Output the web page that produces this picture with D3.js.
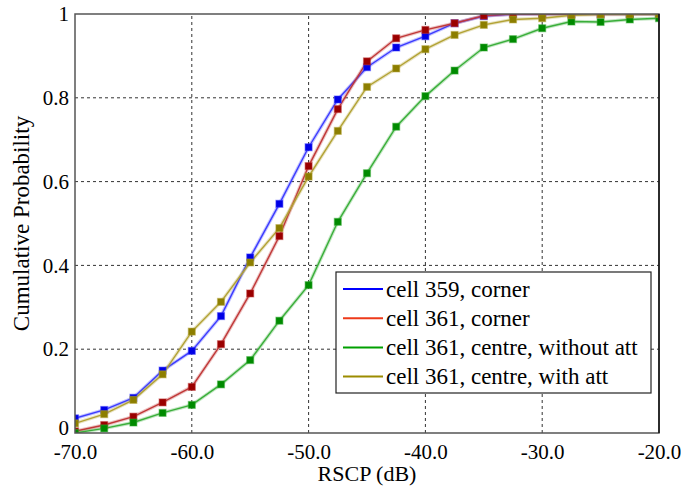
<!DOCTYPE html>
<html>
<head>
<meta charset="utf-8">
<script src="https://cdn.jsdelivr.net/npm/d3@7"></script>
<style>
  body { margin: 0; background: #fff; }
  svg text { font-family: "Liberation Serif", "DejaVu Serif", "Noto Serif", Tinos, "Times New Roman", serif; fill: #000; }
</style>
</head>
<body>
<svg id="chart"></svg>
<script>
// RSCP sample positions (dB)
const rscp = [-70, -67.5, -65, -62.5, -60, -57.5, -55, -52.5, -50, -47.5, -45,
              -42.5, -40, -37.5, -35, -32.5, -30, -27.5, -25, -22.5, -20];

const cell359Corner = [0.035, 0.055, 0.084, 0.149, 0.196, 0.279, 0.419, 0.547, 0.682, 0.796, 0.873,
                       0.92, 0.947, 0.978, 0.995, 1.0, 1.0, 1.0, 1.0, 1.0, 1.0];
const cell361Corner = [0.004, 0.019, 0.039, 0.073, 0.11, 0.212, 0.333, 0.47, 0.637, 0.773, 0.887,
                       0.942, 0.962, 0.978, 0.996, 1.0, 1.0, 1.0, 1.0, 1.0, 1.0];
const centreNoAtt = [0.0, 0.011, 0.025, 0.048, 0.067, 0.116, 0.174, 0.268, 0.353, 0.504, 0.62,
                     0.731, 0.804, 0.865, 0.92, 0.94, 0.966, 0.982, 0.981, 0.987, 0.99];
const centreAtt = [0.023, 0.045, 0.079, 0.14, 0.242, 0.313, 0.407, 0.489, 0.612, 0.721, 0.826,
                   0.87, 0.916, 0.95, 0.974, 0.987, 0.99, 0.997, 0.999, 0.999, 1.0];

const seriesNames = ["cell 359, corner", "cell 361, corner", "cell 361, centre, without att", "cell 361, centre, with att"];
const xTicks = [-70, -60, -50, -40, -30, -20];
const yTicks = [0, 0.2, 0.4, 0.6, 0.8, 1];

const series = [
    {name: seriesNames[0], values: cell359Corner, line: "#3b3bff", mark: "#0000e6", key: "#0000ff"},
    {name: seriesNames[1], values: cell361Corner, line: "#c03838", mark: "#9a0000", key: "#ee3a1a"},
    {name: seriesNames[2], values: centreNoAtt, line: "#3aae3a", mark: "#008a00", key: "#00a000"},
    {name: seriesNames[3], values: centreAtt, line: "#b2a234", mark: "#8c7e00", key: "#9c8c00"},
];

const serif = '"Liberation Serif", "DejaVu Serif", "Noto Serif", Tinos, "Times New Roman", serif';
const width = 681, height = 488;
const margin = {left: 75, right: 22, top: 14, bottom: 55};

const svg = d3.select("#chart")
    .attr("width", width)
    .attr("height", height);

const x = d3.scaleLinear().domain([-70, -20]).range([margin.left, width - margin.right]);
const y = d3.scaleLinear().domain([0, 1]).range([height - margin.bottom, margin.top]);

svg.append("defs").append("clipPath")
    .attr("id", "plotClip")
    .append("rect")
    .attr("x", x(-70))
    .attr("y", y(1))
    .attr("width", x(-20) - x(-70))
    .attr("height", y(0) - y(1));

// grid
const grid = svg.append("g");
xTicks.slice(1, -1).forEach(t => {
    grid.append("line")
        .attr("x1", x(t)).attr("x2", x(t))
        .attr("y1", y(0)).attr("y2", y(1))
        .attr("stroke", "#333")
        .attr("stroke-width", 1)
        .attr("stroke-dasharray", "3,3");
});
yTicks.slice(1, -1).forEach(t => {
    grid.append("line")
        .attr("x1", x(-70)).attr("x2", x(-20))
        .attr("y1", y(t)).attr("y2", y(t))
        .attr("stroke", "#333")
        .attr("stroke-width", 1)
        .attr("stroke-dasharray", "3,3");
});

// series
const plot = svg.append("g").attr("clip-path", "url(#plotClip)");
const line = d3.line()
    .x((d, i) => x(rscp[i]))
    .y(d => y(d));

series.forEach(s => {
    plot.append("path")
        .attr("d", line(s.values))
        .attr("fill", "none")
        .attr("stroke", s.line)
        .attr("stroke-opacity", 0.3)
        .attr("stroke-width", 3.5);
    plot.append("path")
        .attr("d", line(s.values))
        .attr("fill", "none")
        .attr("stroke", s.line)
        .attr("stroke-width", 1.4);
});

series.forEach(s => {
    plot.selectAll(null)
        .data(s.values)
        .enter()
        .append("rect")
        .attr("x", (d, i) => x(rscp[i]) - 3.5)
        .attr("y", d => y(d) - 3.5)
        .attr("width", 7)
        .attr("height", 7)
        .attr("fill", s.mark)
        .attr("stroke", s.line)
        .attr("stroke-opacity", 0.45)
        .attr("stroke-width", 1.2);
});

// frame
svg.append("rect")
    .attr("x", x(-70))
    .attr("y", y(1))
    .attr("width", x(-20) - x(-70))
    .attr("height", y(0) - y(1))
    .attr("fill", "none")
    .attr("stroke", "#555")
    .attr("stroke-width", 1.5);
svg.append("line")
    .attr("x1", x(-20)).attr("x2", x(-20))
    .attr("y1", y(1)).attr("y2", y(0))
    .attr("stroke", "#111")
    .attr("stroke-width", 1.5);

// axes labels
const xAxis = d3.axisBottom(x)
    .tickValues(xTicks)
    .tickFormat(d => d3.format(".1f")(d).replace("\u2212", "-"))
    .tickSize(0)
    .tickPadding(11);
svg.append("g")
    .attr("transform", `translate(0,${y(0)})`)
    .call(xAxis)
    .call(g => g.select(".domain").remove())
    .attr("font-family", serif)
    .attr("font-size", 21)
    .selectAll("text")
    .attr("fill", "#000");

const yAxis = d3.axisLeft(y)
    .tickValues(yTicks)
    .tickFormat(d3.format("~g"))
    .tickSize(0)
    .tickPadding(6);
svg.append("g")
    .attr("transform", `translate(${x(-70)},0)`)
    .call(yAxis)
    .call(g => g.select(".domain").remove())
    .attr("font-family", serif)
    .attr("font-size", 21)
    .selectAll("text")
    .attr("fill", "#000")
    .attr("dy", d => d === 0 ? "0.05em" : "0.32em");

svg.append("text")
    .attr("x", (x(-70) + x(-20)) / 2)
    .attr("y", 481)
    .attr("text-anchor", "middle")
    .attr("font-size", 22)
    .text("RSCP (dB)");

svg.append("text")
    .attr("transform", `translate(29,${(y(0) + y(1)) / 2}) rotate(-90)`)
    .attr("text-anchor", "middle")
    .attr("font-size", 23)
    .text("Cumulative Probability");

// legend
const legend = svg.append("g").attr("transform", "translate(336,272)");
legend.append("rect")
    .attr("width", 315)
    .attr("height", 121)
    .attr("fill", "#fff")
    .attr("stroke", "#222")
    .attr("stroke-width", 1.2);

series.forEach((s, i) => {
    const ly = 17 + i * 29.2;
    legend.append("line")
        .attr("x1", 7).attr("x2", 47)
        .attr("y1", ly).attr("y2", ly)
        .attr("stroke", s.key)
        .attr("stroke-width", 2);
    legend.append("text")
        .attr("x", 50)
        .attr("y", ly)
        .attr("dy", "0.33em")
        .attr("font-size", 23)
        .text(s.name);
});
</script>
</body>
</html>
